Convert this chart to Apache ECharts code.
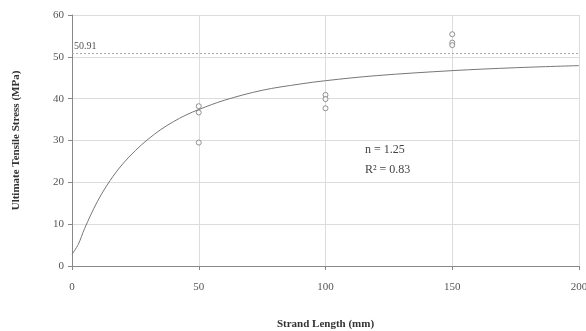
<!DOCTYPE html>
<html>
<head>
<meta charset="utf-8">
<script src="https://cdn.jsdelivr.net/npm/echarts@6/dist/echarts.min.js"></script>
<style>
	html, body { margin: 0; padding: 0; background: #fff; }
	#chart { width: 586px; height: 331px; }
</style>
</head>
<body>
<div id="chart"></div>
<script>
// measured strengths (strand length mm, stress MPa)
const pointLengths = [50, 50, 50, 100, 100, 100, 150, 150, 150];
const pointStress = [38.2, 36.7, 29.5, 40.9, 39.9, 37.7, 55.4, 53.4, 52.8];

// fitted curve
const curveLengths = [0, 2.5, 5, 10, 15, 20, 25, 30, 35, 40, 45, 50, 60, 75, 90, 100, 120, 150, 175, 200];
const curveStress = [2.8, 5.2, 9.0, 15.4, 20.4, 24.4, 27.6, 30.3, 32.6, 34.5, 36.1, 37.4, 39.6, 42.0, 43.5, 44.3, 45.5, 46.7, 47.4, 47.9];

const limitValue = 50.91;
const fitText = ["n = 1.25", "R² = 0.83"];

const font = "'Liberation Serif', 'DejaVu Serif', serif";

const chart = echarts.init(document.getElementById("chart"));
chart.setOption({
	animation: false,
	backgroundColor: "#fff",
	grid: { left: 72, right: 7, top: 15, bottom: 65, outerBoundsMode: "none" },
	xAxis: {
		type: "value",
		min: 0,
		max: 200,
		interval: 50,
		name: "Strand Length (mm)",
		nameLocation: "middle",
		nameGap: 53,
		nameTextStyle: { fontFamily: font, fontWeight: "bold", fontSize: 11, color: "#333" },
		axisLine: { lineStyle: { color: "#888" } },
		axisTick: { show: true, length: 4, lineStyle: { color: "#888" } },
		axisLabel: { fontFamily: font, fontSize: 11, color: "#555", margin: 16 },
		splitLine: { show: true, lineStyle: { color: "#dcdcdc" } },
	},
	yAxis: {
		type: "value",
		min: 0,
		max: 60,
		interval: 10,
		name: "Ultimate Tensile Stress (MPa)",
		nameLocation: "middle",
		nameGap: 50,
		nameTextStyle: { fontFamily: font, fontWeight: "bold", fontSize: 11, color: "#333" },
		axisLine: { show: true, lineStyle: { color: "#888" } },
		axisTick: { show: true, length: 4, lineStyle: { color: "#888" } },
		axisLabel: { fontFamily: font, fontSize: 11, color: "#555", margin: 8 },
		splitLine: { show: true, lineStyle: { color: "#dcdcdc" } },
	},
	series: [
		{
			type: "line",
			data: curveLengths.map((x, i) => [x, curveStress[i]]),
			smooth: 0.35,
			showSymbol: false,
			lineStyle: { color: "#777", width: 1 },
			silent: true,
			markLine: {
				silent: true,
				symbol: "none",
				lineStyle: { color: "#aaa", type: [2, 2], width: 1 },
				label: {
					position: "insideStartTop",
					formatter: String(limitValue),
					fontFamily: font,
					fontSize: 10,
					color: "#555",
					distance: [2, 2],
				},
				data: [{ yAxis: limitValue }],
			},
		},
		{
			type: "scatter",
			data: pointLengths.map((x, i) => [x, pointStress[i]]),
			symbol: "circle",
			symbolSize: 5,
			itemStyle: { color: "#fff", borderColor: "#777", borderWidth: 1 },
		},
	],
	graphic: [
		{
			type: "text",
			left: 365,
			top: 144,
			style: { text: fitText[0], fontFamily: font, fontSize: 12, fill: "#444" },
		},
		{
			type: "text",
			left: 365,
			top: 164,
			style: { text: fitText[1], fontFamily: font, fontSize: 12, fill: "#444" },
		},
	],
});
</script>
</body>
</html>
